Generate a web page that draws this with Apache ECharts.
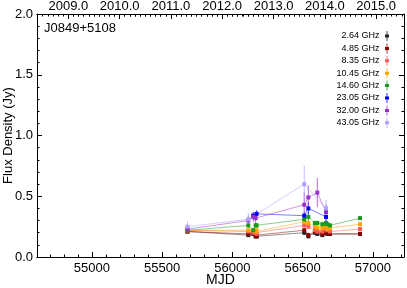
<!DOCTYPE html>
<html><head><meta charset="utf-8">
<script src="https://cdn.jsdelivr.net/npm/echarts@6/dist/echarts.min.js"></script>
<style>html,body{margin:0;padding:0;background:#fff}#c{width:407px;height:288px}</style>
</head><body><div id="c"></div>
<script>
const sourceName = "J0849+5108";
const epochs = [55680, 56113, 56148, 56165, 56172, 56511, 56540, 56587, 56604, 56640, 56666, 56675, 56694, 56908];
const freqs = ["2.64 GHz","4.85 GHz","8.35 GHz","10.45 GHz","14.60 GHz","23.05 GHz","32.00 GHz","43.05 GHz"];
const colors = ["#222222","#8b0000","#ff5a5a","#ffa500","#1a9a1a","#0000ff","#9932cc","#b0a0ff"];
const flux264  = [0.21,0.18,0.19,0.17,0.17,0.20,0.17,0.20,0.19,0.18,0.20,0.19,0.19,0.19];
const flux485  = [0.21,0.19,0.20,0.18,0.17,0.22,0.18,0.21,0.21,0.19,0.20,0.21,0.19,0.19];
const flux835  = [0.22,0.21,0.20,0.20,0.19,0.26,0.25,0.22,0.21,0.21,0.24,0.22,0.21,0.23];
const flux1045 = [0.22,0.22,0.22,0.21,0.22,0.29,0.28,0.25,0.24,0.24,0.25,0.23,0.24,0.27];
const flux1460 = [0.22,0.26,0.22,0.26,0.26,0.31,0.33,0.28,0.28,0.27,0.28,0.27,0.26,0.32];
const flux2305 = [null,null,0.34,null,0.355,0.34,0.40,null,null,null,0.33,null,null,null];
const flux3200 = [0.23,0.30,0.33,0.32,null,0.43,0.49,null,0.53,null,0.37,null,null,null];
const flux4305 = [0.25,0.31,null,null,null,0.60,null,null,null,null,0.40,null,null,null];
const err264  = [0.01,0.01,0.01,0.01,0.01,0.02,0.01,0.01,0.01,0.01,0.01,0.01,0.01,0.01];
const err485  = [0.01,0.01,0.01,0.01,0.01,0.02,0.02,0.02,0.01,0.01,0.02,0.01,0.01,0.01];
const err835  = [0.01,0.01,0.01,0.01,0.01,0.02,0.02,0.02,0.02,0.01,0.02,0.01,0.01,0.01];
const err1045 = [0.01,0.01,0.01,0.01,0.01,0.02,0.02,0.02,0.02,0.01,0.02,0.01,0.01,0.01];
const err1460 = [0.01,0.02,0.02,0.02,0.02,0.03,0.04,0.02,0.02,0.02,0.02,0.02,0.02,0.01];
const err2305 = [0,0,0.03,0,0.03,0.03,0.05,0,0,0,0.04,0,0,0];
const err3200 = [0.03,0.04,0.04,0.04,0,0.1,0.1,0,0.12,0,0.06,0,0,0];
const err4305 = [0.04,0.05,0,0,0,0.15,0,0,0,0,0.07,0,0,0];
const xMin = 54609, xMax = 57221;
const xMajor = [55000,55500,56000,56500,57000];
const yearLabels = ["2009.0","2010.0","2011.0","2012.0","2013.0","2014.0","2015.0"];
const yearMJD = [54832,55197,55562,55927,56293,56658,57023];

const fluxes = [flux264,flux485,flux835,flux1045,flux1460,flux2305,flux3200,flux4305];
const errs = [err264,err485,err835,err1045,err1460,err2305,err3200,err4305];

const xMinor = []; for (let v = 54700; v <= 57200; v += 100) xMinor.push(v);
const yrMinor = []; for (let i = 0; i < yearMJD.length; i++) for (let k = -9; k < 10; k++) { const v = yearMJD[i] + k*36.525; if (v > xMin && v < xMax && yrMinor.indexOf(v) < 0) yrMinor.push(v); }

const FONT = "Liberation Sans";
const series = [];
fluxes.forEach((f, i) => {
  const d = []; f.forEach((v, j) => { if (v !== null) d.push([epochs[j], v, errs[i][j]]); });
  series.push({
    name: "err" + i, type: "custom", xAxisIndex: 0, yAxisIndex: 0, data: d, silent: true, z: 2,
    renderItem: (params, api) => {
      const x = api.value(0), y = api.value(1), e = api.value(2);
      const p1 = api.coord([x, y - e]), p2 = api.coord([x, y + e]);
      return { type: "line", shape: { x1: p1[0], y1: p1[1], x2: p2[0], y2: p2[1] }, style: { stroke: colors[i], lineWidth: 1, opacity: 0.75 } };
    }
  });
  series.push({
    name: freqs[i], type: "line", xAxisIndex: 0, yAxisIndex: 0, data: d.map(p => [p[0], p[1]]),
    symbol: "rect", symbolSize: 4, z: 3,
    itemStyle: { color: colors[i] },
    lineStyle: { color: colors[i], width: 1, opacity: 0.5 },
    animation: false
  });
});

const icon = "path://M2.6,0 L3.4,0 L3.4,3.5 L5,3.5 L5,6.5 L3.4,6.5 L3.4,10 L2.6,10 L2.6,6.5 L1,6.5 L1,3.5 L2.6,3.5 Z";
const axisLine = { show: true, onZero: false, lineStyle: { color: "#000", width: 1 } };
const chart = echarts.init(document.getElementById("c"), null, { renderer: "canvas" });
chart.setOption({
  animation: false,
  grid: { left: 37, right: 3, top: 14, bottom: 31, containLabel: false, outerBoundsMode: "none" },
  legend: {
    data: freqs, orient: "vertical", align: "right", right: 13, top: 26,
    itemWidth: 5, itemHeight: 10, itemGap: 2.4, icon: icon,
    textStyle: { fontFamily: FONT, fontSize: 9, color: "#000" }, selectedMode: false
  },
  graphic: [{ type: "text", left: 44, top: 22, style: { text: sourceName, font: "13px " + FONT, fill: "#000" } }],
  xAxis: [
    { type: "value", position: "bottom", min: xMin, max: xMax, name: "MJD", nameLocation: "middle", nameGap: 16, nameMoveOverlap: false,
      nameTextStyle: { fontFamily: FONT, fontSize: 14, color: "#000", verticalAlign: "top" },
      axisLine, splitLine: { show: false },
      axisTick: { inside: true, length: 5, customValues: xMajor, lineStyle: { color: "#000" } },
      axisLabel: { customValues: xMajor, fontFamily: FONT, fontSize: 13, color: "#000", margin: 5, formatter: v => String(v) } },
    { type: "value", position: "bottom", min: xMin, max: xMax, axisLine, splitLine: { show: false },
      axisTick: { inside: true, length: 2.5, customValues: xMinor, lineStyle: { color: "#000" } },
      axisLabel: { show: false } },
    { type: "value", position: "top", min: xMin, max: xMax, axisLine, splitLine: { show: false },
      axisTick: { inside: true, length: 5, customValues: yearMJD, lineStyle: { color: "#000" } },
      axisLabel: { customValues: yearMJD, fontFamily: FONT, fontSize: 13, color: "#000", margin: 1,
        formatter: v => { const i = yearMJD.indexOf(v); return i >= 0 ? yearLabels[i] : ""; } } },
    { type: "value", position: "top", min: xMin, max: xMax, axisLine, splitLine: { show: false },
      axisTick: { inside: true, length: 2.5, customValues: yrMinor, lineStyle: { color: "#000" } },
      axisLabel: { show: false } }
  ],
  yAxis: [
    { type: "value", position: "left", min: 0, max: 2, interval: 0.5, name: "Flux Density (Jy)", nameLocation: "middle", nameGap: 22, nameMoveOverlap: false,
      nameTextStyle: { fontFamily: FONT, fontSize: 13, color: "#000" },
      axisLine, splitLine: { show: false },
      axisTick: { inside: true, length: 5, lineStyle: { color: "#000" } },
      minorTick: { show: true, splitNumber: 5, length: 2.5, lineStyle: { color: "#000" } },
      axisLabel: { fontFamily: FONT, fontSize: 13, color: "#000", margin: 4, formatter: v => v.toFixed(1) } },
    { type: "value", position: "right", min: 0, max: 2, interval: 0.5, axisLine, splitLine: { show: false },
      axisTick: { inside: true, length: 5, lineStyle: { color: "#000" } },
      minorTick: { show: true, splitNumber: 5, length: 2.5, lineStyle: { color: "#000" } },
      axisLabel: { show: false } }
  ],
  series: series
});
</script></body></html>
